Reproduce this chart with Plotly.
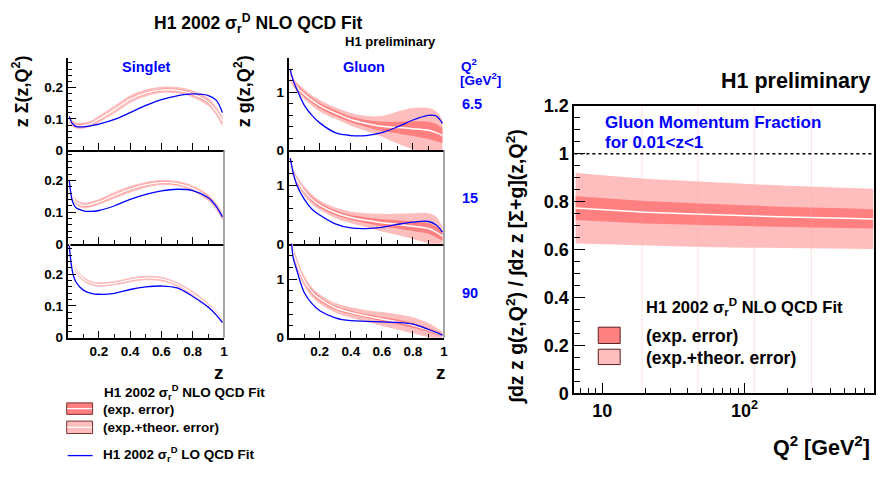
import plotly.graph_objects as go

W, H = 881, 479
FONT = "Liberation Sans"
BLUE = "#0000FF"
INNER = "rgb(255,128,128)"
OUTER = "rgb(255,190,190)"

# ---------------- data ----------------
z = [0.01, 0.03, 0.05, 0.1, 0.15, 0.2, 0.3, 0.4, 0.5, 0.6, 0.7, 0.8, 0.9, 0.95, 0.99]

# singlet z*Sigma(z,Q^2)
sig_nlo_6p5 = [0.098, 0.085, 0.079, 0.078, 0.085, 0.099, 0.130, 0.163, 0.183, 0.193, 0.192, 0.180, 0.154, 0.125, 0.092]
sig_exp_6p5 = [0.005, 0.004, 0.004, 0.004, 0.004, 0.004, 0.004, 0.004, 0.004, 0.004, 0.004, 0.004, 0.005, 0.006, 0.007]
sig_tot_6p5 = [0.012, 0.010, 0.010, 0.010, 0.010, 0.011, 0.012, 0.012, 0.011, 0.010, 0.010, 0.011, 0.013, 0.014, 0.016]
sig_lo_6p5 = [0.108, 0.085, 0.076, 0.074, 0.078, 0.083, 0.098, 0.120, 0.143, 0.162, 0.174, 0.180, 0.175, 0.160, 0.120]

sig_nlo_15 = [0.200, 0.150, 0.133, 0.121, 0.124, 0.132, 0.153, 0.172, 0.186, 0.193, 0.190, 0.175, 0.145, 0.118, 0.085]
sig_exp_15 = [0.005, 0.004, 0.004, 0.004, 0.004, 0.004, 0.004, 0.004, 0.004, 0.004, 0.004, 0.004, 0.005, 0.005, 0.006]
sig_tot_15 = [0.010, 0.009, 0.009, 0.009, 0.009, 0.009, 0.010, 0.010, 0.009, 0.008, 0.008, 0.009, 0.010, 0.011, 0.012]
sig_lo_15 = [0.200, 0.135, 0.115, 0.104, 0.102, 0.105, 0.120, 0.140, 0.156, 0.167, 0.172, 0.168, 0.145, 0.118, 0.085]

sig_nlo_90 = [0.300, 0.245, 0.215, 0.185, 0.172, 0.168, 0.172, 0.182, 0.188, 0.185, 0.168, 0.140, 0.102, 0.078, 0.052]
sig_exp_90 = [0.004, 0.004, 0.003, 0.003, 0.003, 0.003, 0.003, 0.003, 0.003, 0.003, 0.003, 0.003, 0.003, 0.003, 0.003]
sig_tot_90 = [0.009, 0.008, 0.008, 0.007, 0.007, 0.007, 0.007, 0.007, 0.007, 0.007, 0.007, 0.007, 0.007, 0.007, 0.006]
sig_lo_90 = [0.290, 0.210, 0.178, 0.150, 0.140, 0.137, 0.140, 0.152, 0.160, 0.163, 0.157, 0.130, 0.096, 0.072, 0.048]

# gluon z*g(z,Q^2)
glu_nlo_6p5 = [1.28, 1.18, 1.10, 0.97, 0.86, 0.77, 0.64, 0.53, 0.46, 0.41, 0.39, 0.37, 0.34, 0.30, 0.25]
glu_exp_6p5 = [0.04, 0.04, 0.04, 0.045, 0.045, 0.045, 0.05, 0.05, 0.06, 0.08, 0.10, 0.13, 0.15, 0.15, 0.13]
glu_tot_6p5 = [0.08, 0.08, 0.08, 0.09, 0.09, 0.10, 0.10, 0.11, 0.13, 0.18, 0.28, 0.36, 0.39, 0.37, 0.27]
glu_lo_6p5 = [1.40, 1.20, 1.07, 0.78, 0.60, 0.47, 0.30, 0.25, 0.25, 0.30, 0.40, 0.52, 0.60, 0.59, 0.46]

glu_nlo_15 = [1.38, 1.20, 1.10, 0.90, 0.76, 0.66, 0.53, 0.45, 0.40, 0.36, 0.33, 0.30, 0.26, 0.20, 0.13]
glu_exp_15 = [0.04, 0.04, 0.04, 0.04, 0.04, 0.04, 0.04, 0.04, 0.05, 0.06, 0.07, 0.08, 0.09, 0.09, 0.08]
glu_tot_15 = [0.07, 0.07, 0.07, 0.08, 0.08, 0.08, 0.09, 0.10, 0.12, 0.15, 0.18, 0.22, 0.26, 0.26, 0.15]
glu_lo_15 = [1.46, 1.20, 1.02, 0.76, 0.59, 0.49, 0.34, 0.27, 0.26, 0.28, 0.33, 0.37, 0.38, 0.32, 0.20]

glu_nlo_90 = [1.80, 1.45, 1.28, 0.97, 0.78, 0.66, 0.51, 0.43, 0.37, 0.32, 0.27, 0.21, 0.13, 0.085, 0.05]
glu_exp_90 = [0.05, 0.05, 0.05, 0.04, 0.04, 0.035, 0.03, 0.03, 0.03, 0.035, 0.04, 0.04, 0.035, 0.03, 0.02]
glu_tot_90 = [0.10, 0.10, 0.10, 0.09, 0.08, 0.08, 0.08, 0.09, 0.10, 0.12, 0.13, 0.14, 0.12, 0.09, 0.05]
glu_lo_90 = [1.90, 1.35, 1.17, 0.77, 0.58, 0.46, 0.34, 0.29, 0.28, 0.27, 0.26, 0.23, 0.14, 0.09, 0.045]

row_q2_labels = ["6.5", "15", "90"]

# gluon momentum fraction vs Q^2
q2 = [6.5, 10, 20, 50, 100, 200, 500, 800]
frac_nlo = [0.773, 0.766, 0.756, 0.747, 0.741, 0.736, 0.731, 0.728]
frac_exp = [0.050, 0.049, 0.047, 0.045, 0.044, 0.042, 0.041, 0.040]
frac_tot = [0.148, 0.144, 0.140, 0.136, 0.133, 0.130, 0.127, 0.126]
grid_q2 = [19, 47, 117, 294]

# ---------------- geometry (pixels) ----------------
def px(x):
    return x / W

def py(y):
    return 1 - y / H

col_x = [(68, 225), (290, 446)]
row_y = [(50, 146), (146, 244), (244, 342)]

fig = go.Figure()
layout = dict(
    width=W, height=H, margin=dict(l=0, r=0, t=0, b=0),
    paper_bgcolor="white", plot_bgcolor="white", showlegend=False,
    font=dict(family=FONT, color="black"),
)


def add_band(xa, ya, xs, c, e, t, spline=True):
    shape = "spline" if spline else "linear"
    for err, col in ((t, OUTER), (e, INNER)):
        lo = [a - b for a, b in zip(c, err)]
        hi = [a + b for a, b in zip(c, err)]
        fig.add_trace(go.Scatter(x=xs, y=lo, xaxis=xa, yaxis=ya, mode="lines",
                                 line=dict(width=0, shape=shape), hoverinfo="skip"))
        fig.add_trace(go.Scatter(x=xs, y=hi, xaxis=xa, yaxis=ya, mode="lines",
                                 line=dict(width=0, shape=shape), fill="tonexty",
                                 fillcolor=col, hoverinfo="skip"))
    fig.add_trace(go.Scatter(x=xs, y=c, xaxis=xa, yaxis=ya, mode="lines",
                             line=dict(color="white", width=1.5, shape=shape)))


panels = [
    (sig_nlo_6p5, sig_exp_6p5, sig_tot_6p5, sig_lo_6p5),
    (glu_nlo_6p5, glu_exp_6p5, glu_tot_6p5, glu_lo_6p5),
    (sig_nlo_15, sig_exp_15, sig_tot_15, sig_lo_15),
    (glu_nlo_15, glu_exp_15, glu_tot_15, glu_lo_15),
    (sig_nlo_90, sig_exp_90, sig_tot_90, sig_lo_90),
    (glu_nlo_90, glu_exp_90, glu_tot_90, glu_lo_90),
]

shapes = []
annotations = []

for r in range(3):
    for c in range(2):
        idx = r * 2 + c + 1
        xa = "x" if idx == 1 else f"x{idx}"
        ya = "y" if idx == 1 else f"y{idx}"
        nlo, exp_e, tot_e, lo = panels[idx - 1]
        add_band(xa, ya, z, nlo, exp_e, tot_e)
        fig.add_trace(go.Scatter(x=z, y=lo, xaxis=xa, yaxis=ya, mode="lines",
                                 line=dict(color=BLUE, width=1.3, shape="spline")))
        x0, x1 = col_x[c]
        y0, y1 = row_y[r]
        bottom = r == 2
        xkey = "xaxis" if idx == 1 else f"xaxis{idx}"
        ykey = "yaxis" if idx == 1 else f"yaxis{idx}"
        layout[xkey] = dict(
            domain=[px(x0), px(x1)], anchor=ya, range=[0, 1],
            showline=True, linewidth=2, linecolor="black", showgrid=False, zeroline=False,
            ticks="inside", ticklen=7, tickwidth=1, tickcolor="black",
            tickvals=[0, 0.2, 0.4, 0.6, 0.8, 1.0],
            ticktext=["", "0.2", "0.4", "0.6", "0.8", "1"],
            showticklabels=bottom,
            tickfont=dict(family=FONT, size=13.5, weight="bold"),
            minor=dict(ticks="inside", ticklen=4, dtick=0.1, tick0=0, tickcolor="black", showgrid=False),
        )
        if c == 0:
            yr = [0, 0.296]
            tv = [0, 0.1, 0.2]
            tt = ["0", "0.1", "0.2"]
            mdt = 0.02
        else:
            yr = [0, 1.6]
            tv = [0, 1]
            tt = ["0", "1"]
            mdt = 0.2
        layout[ykey] = dict(
            domain=[py(y1), py(y0)], anchor=xa, range=yr,
            showline=True, linewidth=2, linecolor="black", showgrid=False, zeroline=False,
            ticks="inside", ticklen=8, tickwidth=1, tickcolor="black",
            tickvals=tv, ticktext=tt,
            tickfont=dict(family=FONT, size=13.5, weight="bold"),
            minor=dict(ticks="inside", ticklen=4, dtick=mdt, tick0=0, tickcolor="black", showgrid=False),
        )
        if r > 0:
            shapes.append(dict(type="line", xref="paper", yref="paper",
                               x0=px(x1), x1=px(x1), y0=py(y1), y1=py(y0),
                               line=dict(color="#888888", width=1.5)))

# ---------------- right panel ----------------
add_band("x7", "y7", q2, frac_nlo, frac_exp, frac_tot, spline=False)
layout["xaxis7"] = dict(
    domain=[px(577), px(878)], anchor="y7", type="log", range=[0.804, 2.909],
    showline=True, linewidth=2, linecolor="black", mirror=True, showgrid=False, zeroline=False,
    ticks="inside", ticklen=10, tickwidth=1, tickcolor="black",
    tickvals=[10, 100], ticktext=["10", "10<sup>2</sup>"],
    tickfont=dict(family=FONT, size=18, weight="bold"),
    minor=dict(ticks="inside", ticklen=5, tickcolor="black", showgrid=False,
               tickvals=[7, 8, 9, 20, 30, 40, 50, 60, 70, 80, 90, 200, 300, 400, 500, 600, 700, 800]),
)
layout["yaxis7"] = dict(
    domain=[py(400), py(100)], anchor="x7", range=[0, 1.2],
    showline=True, linewidth=2, linecolor="black", mirror=True, showgrid=False, zeroline=False,
    ticks="inside", ticklen=11, tickwidth=1, tickcolor="black",
    tickvals=[0, 0.2, 0.4, 0.6, 0.8, 1.0, 1.2],
    ticktext=["0", "0.2", "0.4", "0.6", "0.8", "1", "1.2"],
    tickfont=dict(family=FONT, size=18, weight="bold"),
    minor=dict(ticks="inside", ticklen=6, dtick=0.05, tick0=0, tickcolor="black", showgrid=False),
)
for gq in grid_q2:
    shapes.append(dict(type="line", xref="x7", yref="y7 domain", x0=gq, x1=gq, y0=0, y1=1,
                       line=dict(color="rgba(255,170,170,0.35)", width=1), layer="above"))
shapes.append(dict(type="line", xref="x7 domain", yref="y7", x0=0, x1=1, y0=1, y1=1,
                   line=dict(color="black", width=1.5, dash="dot")))


def text(x, y, s, size, color="black", xanchor="left", angle=0, yanchor="middle"):
    annotations.append(dict(x=px(x), y=py(y), xref="paper", yref="paper", text=s,
                            showarrow=False, xanchor=xanchor, yanchor=yanchor, textangle=angle,
                            font=dict(family=FONT, size=size, color=color)))


SIG = "σ<sub>r</sub><sup>D</sup>"

# headers of the left block
text(260, 14, f"<b>H1 2002 {SIG} NLO QCD Fit</b>", 17.5, xanchor="center")
text(392, 33, "<b>H1 preliminary</b>", 13, xanchor="center")
text(147, 59, "<b>Singlet</b>", 14.5, BLUE, xanchor="center")
text(366, 59, "<b>Gluon</b>", 14.5, BLUE, xanchor="center")
text(461, 57, "<b>Q<sup>2</sup></b>", 13.5, BLUE)
text(460, 72, "<b>[GeV<sup>2</sup>]</b>", 13.5, BLUE)
for lab, yy in zip(row_q2_labels, [98, 196, 295]):
    text(462, yy, f"<b>{lab}</b>", 14.5, BLUE)
text(21, 85, "<b>z Σ(z,Q<sup>2</sup>)</b>", 18, xanchor="center", angle=-90)
text(244, 85, "<b>z g(z,Q<sup>2</sup>)</b>", 18, xanchor="center", angle=-90)
text(220, 378, "<b>z</b>", 19, xanchor="center")
text(443, 378, "<b>z</b>", 19, xanchor="center")

# legend of the left block
text(102, 399, f"<b>H1 2002 {SIG} NLO QCD Fit</b>", 13.5)
text(101, 417, "<b>(exp. error)</b>", 13.5)
text(101, 436, "<b>(exp.+theor. error)</b>", 13.5)
text(101, 463, f"<b>H1 2002 {SIG} LO QCD Fit</b>", 13.5)
for (ya0, ya1, col) in ((410, 422, INNER), (429, 442, OUTER)):
    shapes.append(dict(type="rect", xref="paper", yref="paper", x0=px(67), x1=px(93),
                       y0=py(ya1), y1=py(ya0), fillcolor=col, line=dict(color="#7a3030", width=1)))
    shapes.append(dict(type="line", xref="paper", yref="paper", x0=px(67.5), x1=px(92.5),
                       y0=py((ya0 + ya1) / 2), y1=py((ya0 + ya1) / 2),
                       line=dict(color="white", width=1.2)))
shapes.append(dict(type="line", xref="paper", yref="paper", x0=px(68), x1=px(93),
                   y0=py(465), y1=py(465), line=dict(color=BLUE, width=1.3)))

# right block texts
text(876, 74, "<b>H1 preliminary</b>", 21.5, xanchor="right")
text(606, 117, "<b>Gluon Momentum Fraction</b>", 17, BLUE)
text(606, 138, "<b>for 0.01&lt;z&lt;1</b>", 17, BLUE)
text(647, 310, f"<b>H1 2002 {SIG} NLO QCD Fit</b>", 16.5)
text(647, 340, "<b>(exp. error)</b>", 17.5)
text(647, 363, "<b>(exp.+theor. error)</b>", 17.5)
for (ya0, ya1, col) in ((331, 348, INNER), (354, 370, OUTER)):
    shapes.append(dict(type="rect", xref="paper", yref="paper", x0=px(601), x1=px(623),
                       y0=py(ya1), y1=py(ya0), fillcolor=col, line=dict(color="#5a2020", width=1)))
text(518, 268, "<b>∫dz z g(z,Q<sup>2</sup>) / ∫dz z [Σ+g](z,Q<sup>2</sup>)</b>", 19.5,
     xanchor="center", angle=-90)
text(876, 455, "<b>Q<sup>2</sup> [GeV<sup>2</sup>]</b>", 21.5, xanchor="right")

layout["shapes"] = shapes
layout["annotations"] = annotations
fig.update_layout(**layout)
fig.write_html("out.html")
